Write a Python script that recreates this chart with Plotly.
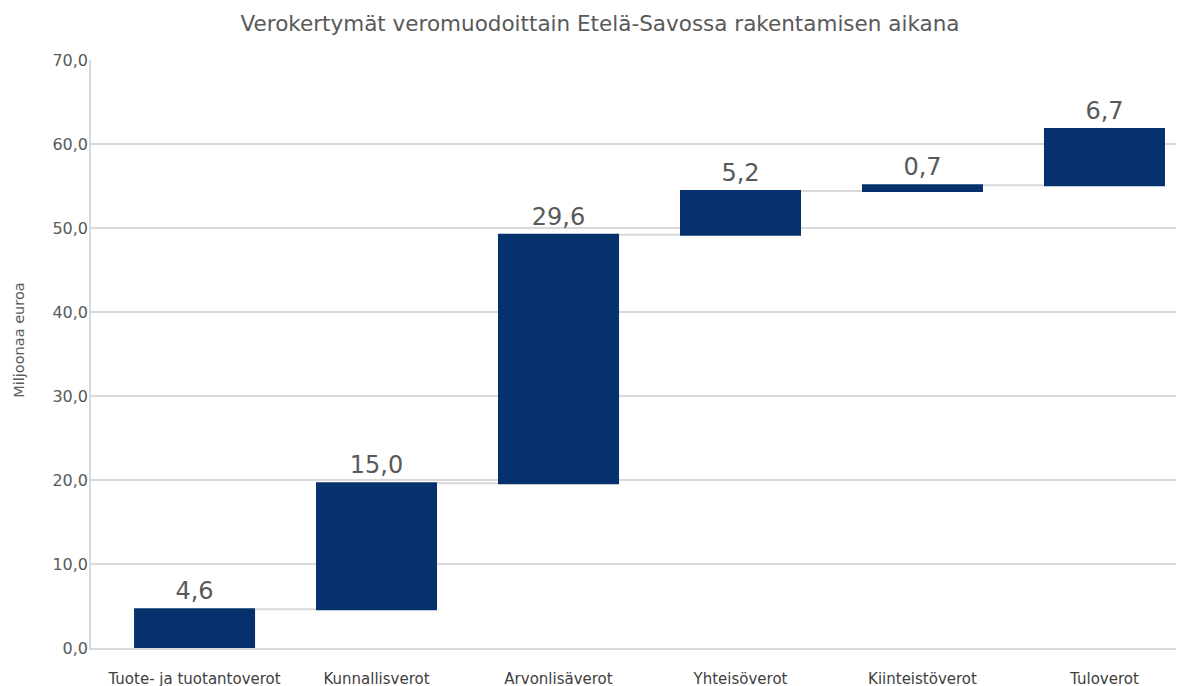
import plotly.graph_objects as go

categories = ['Tuote- ja tuotantoverot', 'Kunnallisverot', 'Arvonlisäverot',
              'Yhteisöverot', 'Kiinteistöverot', 'Tuloverot']
values = [4.6, 15.0, 29.6, 5.2, 0.7, 6.7]
y_ticks = [0, 10, 20, 30, 40, 50, 60, 70]

bar_color = '#06316c'
grid_color = '#d9d9d9'
text_color = '#595959'
font_family = 'DejaVu Sans, Verdana, sans-serif'

labels = [f'{v:.1f}'.replace('.', ',') for v in values]

fig = go.Figure(go.Waterfall(
    x=categories,
    y=values,
    measure=['relative'] * len(values),
    text=labels,
    textposition='outside',
    textfont=dict(size=24, color=text_color, family=font_family),
    increasing=dict(marker=dict(color=bar_color)),
    connector=dict(line=dict(color=grid_color, width=2)),
    width=0.665,
    cliponaxis=False,
    hoverinfo='x+y',
))

# page body has an 8px margin, so the margins are shifted by that
fig.update_layout(
    width=1184,
    height=686,
    separators=', ',
    paper_bgcolor='white',
    plot_bgcolor='white',
    showlegend=False,
    font=dict(family=font_family, color=text_color),
    title=dict(
        text='Verokertymät veromuodoittain Etelä-Savossa rakentamisen aikana',
        x=0.5, xanchor='center', y=0.978, yanchor='middle',
        font=dict(size=21.5, color=text_color),
    ),
    margin=dict(l=83, r=8, t=52, b=46),
)

# y title as annotation so it can sit a bit above the plot centre, like the original
fig.add_annotation(
    text='Miljoonaa euroa', textangle=-90,
    xref='paper', yref='paper', x=-0.066, y=0.524,
    xanchor='center', yanchor='middle', showarrow=False,
    font=dict(size=14.5, color=text_color),
)

fig.update_yaxes(
    range=[0, 70],
    tickvals=y_ticks,
    tickformat='.1f',
    tickfont=dict(size=16, color=text_color),
    showgrid=True,
    gridcolor=grid_color,
    gridwidth=1.5,
    showline=True,
    linecolor=grid_color,
    linewidth=1.5,
    zeroline=False,
    ticks='',
    ticklabelstandoff=-2,
    automargin=False,
)

fig.update_xaxes(
    range=[-0.569, 5.437],
    tickfont=dict(size=15, color='#404040'),
    showline=True,
    linecolor=grid_color,
    linewidth=2,
    showgrid=False,
    ticks='',
    ticklabelstandoff=16,
    automargin=False,
)

fig.write_html('out.html')
